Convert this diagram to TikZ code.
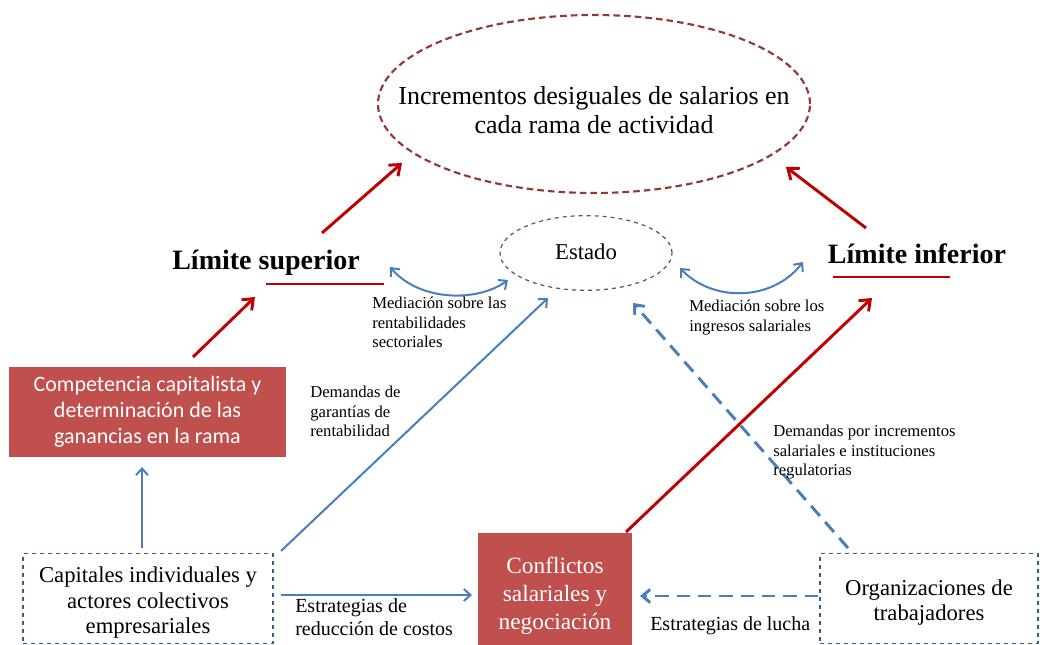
\documentclass[tikz,border=0pt]{standalone}
\usepackage{fontspec}
\setmainfont{Liberation Serif}
\newfontfamily\calibri{Carlito}
\usepackage{xcolor}
\usetikzlibrary{arrows.meta, positioning, shapes}

\definecolor{boxred}{HTML}{C0504D}
\definecolor{arrowred}{HTML}{C00000}
\definecolor{ovalred}{HTML}{953735}
\definecolor{lineblue}{HTML}{4A7EBB}
\definecolor{edgeblue}{HTML}{385D8A}

\begin{document}
\begin{tikzpicture}[
    x=0.75pt, y=-0.75pt,
    redbox/.style={rectangle, fill=boxred, text=white, align=center, inner sep=0pt},
    dashbox/.style={rectangle, draw=edgeblue, dashed, line width=0.9pt, align=center, inner sep=0pt, minimum width=187.5pt, minimum height=67pt, font=\fontsize{17}{19}\selectfont},
    limite/.style={font=\bfseries\fontsize{21}{24}\selectfont},
    lbl/.style={anchor=north west, align=left, inner sep=0pt, font=\fontsize{12.5}{14.5}\selectfont},
    redarrow/.style={-{Straight Barb[length=7pt, width=11pt]}, arrowred, line width=2.2pt},
    bluearrow/.style={-{Straight Barb[length=5pt, width=9pt]}, lineblue, line width=1.5pt},
    bluedash/.style={-{Straight Barb[length=6pt, width=10pt]}, lineblue, line width=2.2pt, dash pattern=on 10pt off 6pt},
]
    \useasboundingbox (0,0) rectangle (1040,645);

    % Ovals
    \node[ellipse, draw=ovalred, line width=1.6pt, dash pattern=on 5pt off 3pt, inner sep=0pt,
          minimum width=324pt, minimum height=133.5pt,
          label={[align=center, font=\fontsize{19.5}{22}\selectfont, yshift=-4.5pt]center:Incrementos desiguales de salarios en\\cada rama de actividad}]
          (incr) at (594,104) {};
    \node[ellipse, draw=edgeblue, dashed, line width=0.9pt, inner sep=0pt, minimum width=129pt, minimum height=56pt,
          font=\fontsize{17}{20}\selectfont] (estado) at (586,253) {\raisebox{2pt}{Estado}};

    % Limits
    \node[limite] (sup) at (266,263) {Límite superior};
    \node[limite] (inf) at (917,254) {Límite inferior};
    \coordinate (supa) at (266,284);
    \coordinate (supb) at (384,284);
    \coordinate (infa) at (833,277);
    \coordinate (infb) at (950,277);
    \draw[arrowred, line width=2.2pt] (supa) -- (supb);
    \draw[arrowred, line width=2.2pt] (infa) -- (infb);

    % Boxes
    \node[redbox, minimum width=208pt, minimum height=67.5pt, font=\calibri\fontsize{16.5}{19.5}\selectfont]
        (comp) at (147.5,412) {Competencia capitalista y\\determinación de las\\ganancias en la rama};
    \node[redbox, minimum width=115.5pt, minimum height=84pt, text height=64pt, font=\fontsize{17.5}{21}\selectfont]
        (confl) at (555,589) {Conflictos\\salariales y\\negociación};
    \node[dashbox, text height=56pt] (cap) at (148,598.5)
        {Capitales individuales y\\actores colectivos\\empresariales};
    \node[dashbox, minimum width=163.5pt, text height=37pt] (org) at (929,598.5)
        {Organizaciones de\\trabajadores};

    % Arrow ends
    \coordinate (r1a) at (322,233);
    \coordinate (r1b) at (402,163);
    \coordinate (r2a) at (193,357);
    \coordinate (r2b) at (255,297);
    \coordinate (r3a) at (866,228);
    \coordinate (r3b) at (786,167);
    \coordinate (r4a) at (626,532);
    \coordinate (r4b) at (872,298);
    \coordinate (b1a) at (142,548);
    \coordinate (b1b) at (142,467);
    \coordinate (b2a) at (281,551);
    \coordinate (b2b) at (548,298);
    \coordinate (b3a) at (281,595);
    \coordinate (b3b) at (472,595);
    \coordinate (d1a) at (818,596);
    \coordinate (d1b) at (640,596);
    \coordinate (d2a) at (848,548);
    \coordinate (d2b) at (633,303);
    \coordinate (m1a) at (390,267);
    \coordinate (m1b) at (508,280);
    \coordinate (m2a) at (680,268);
    \coordinate (m2b) at (803,262);

    % Red connectors
    \draw[redarrow] (r1a) -- (r1b);
    \draw[redarrow] (r2a) -- (r2b);
    \draw[redarrow] (r3a) -- (r3b);
    \draw[redarrow] (r4a) -- (r4b);

    % Blue connectors
    \draw[bluearrow] (b1a) -- (b1b);
    \draw[bluearrow] (b2a) -- (b2b);
    \draw[bluearrow] (b3a) -- (b3b);
    \draw[bluedash] (d1a) -- (d1b);
    \draw[bluedash] (d2a) -- (d2b);
    \draw[bluearrow, {Straight Barb[length=5pt, width=9pt]}-{Straight Barb[length=5pt, width=9pt]}]
        (m1a) .. controls (420,302) and (478,302) .. (m1b);
    \draw[bluearrow, {Straight Barb[length=5pt, width=9pt]}-{Straight Barb[length=5pt, width=9pt]}]
        (m2a) .. controls (712,302) and (772,302) .. (m2b);

    % Labels
    \node[lbl] (lmed1) at (372,297) {Mediación sobre las\\rentabilidades\\sectoriales};
    \node[lbl] (lmed2) at (689,300) {Mediación sobre los\\ingresos salariales};
    \node[lbl] (ldem1) at (310,386) {Demandas de\\garantías de\\rentabilidad};
    \node[lbl] (ldem2) at (773,425) {Demandas por incrementos\\salariales e instituciones\\regulatorias};
    \node[lbl, font=\fontsize{15}{17.5}\selectfont] (lest1) at (295,598) {Estrategias de\\reducción de costos};
    \node[lbl, font=\fontsize{15}{17.5}\selectfont] (lest2) at (650,616) {Estrategias de lucha};
\end{tikzpicture}
\end{document}
